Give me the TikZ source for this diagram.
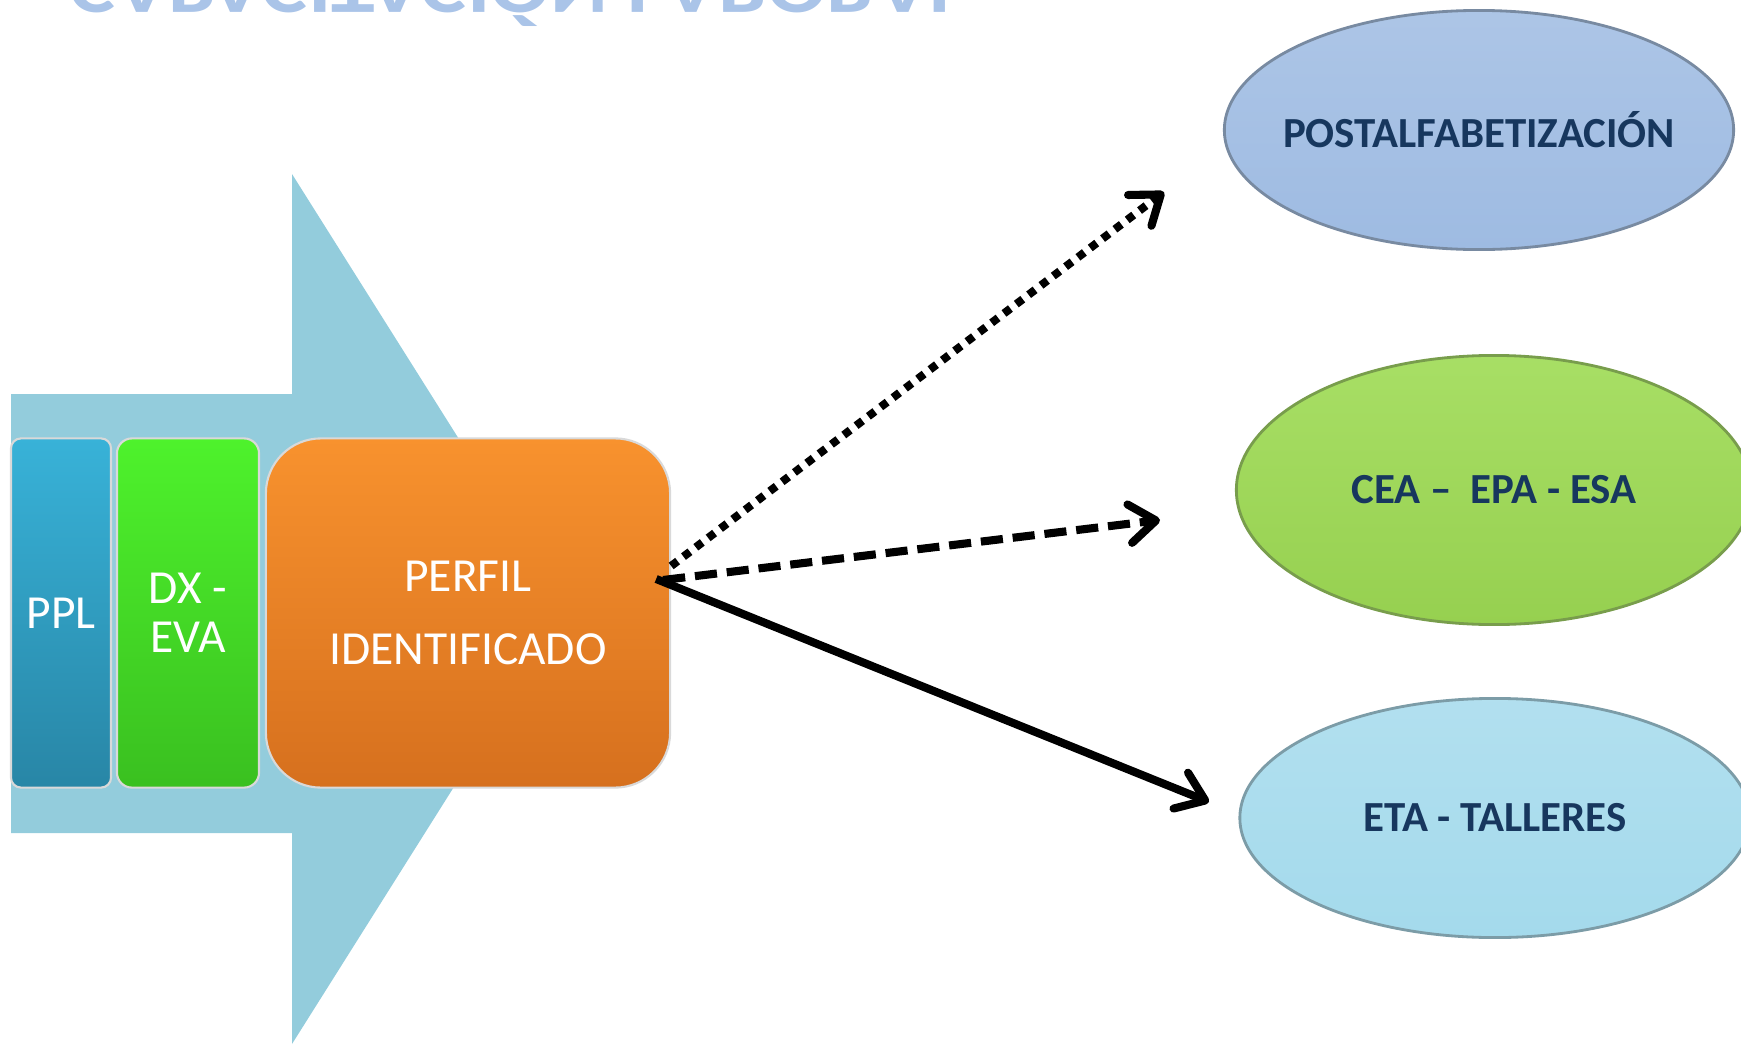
\documentclass[tikz,border=0pt]{standalone}
\usepackage{fontspec}
\setmainfont{Carlito}
\usetikzlibrary{shapes.geometric,arrows.meta}
\definecolor{bigarrow}{RGB}{147,204,220}
\definecolor{pplTop}{RGB}{56,178,216}
\definecolor{pplBot}{RGB}{40,134,166}
\definecolor{dxTop}{RGB}{78,242,44}
\definecolor{dxBot}{RGB}{58,192,32}
\definecolor{orTop}{RGB}{248,146,46}
\definecolor{orBot}{RGB}{214,112,30}
\definecolor{navytext}{RGB}{23,55,94}
\definecolor{ellBlue}{RGB}{158,187,226}
\definecolor{ellGreen}{RGB}{158,219,84}
\definecolor{ellCyan}{RGB}{164,218,236}
\definecolor{titlerefl}{RGB}{170,196,232}
\begin{document}
\begin{tikzpicture}[x=0.01cm,y=-0.01cm,
  stage/.style={rounded corners=#1, minimum height=3.49cm, inner sep=0pt,
    text=white, align=center, font=\fontsize{13.5}{14}\selectfont,
    draw=white!85!black, line width=0.6pt},
  goal/.style={ellipse, minimum height=2.39cm, inner xsep=-1.3cm, inner ysep=0pt,
    text=navytext, font=\bfseries\fontsize{12.2}{15}\selectfont,
    draw=#1!75!black!80!gray, line width=0.8pt},
  link/.style={line width=2.3pt, -{Straight Barb[length=7.5pt,width=11pt,line cap=round,line join=round]}},
  dotline/.style={link, dash pattern=on 2.3pt off 2.1pt},
  dashline/.style={link, dash pattern=on 6.3pt off 2.8pt}
]
\useasboundingbox (0,0) rectangle (1741,1045);
\begin{scope}
\clip (0,0) rectangle (1741,1045);
% reflected title, clipped at the top edge
\node[anchor=south, inner sep=0pt, text=titlerefl, font=\bfseries\fontsize{21}{24}\selectfont]
  (title) at (518,27) {\scalebox{1.19}[-1]{CAPACITACIÓN LABORAL}};
% big background arrow
\fill[bigarrow] (11,394) -- (292,394) -- (292,174) -- (566,609) -- (292,1044)
  -- (292,833) -- (11,833) -- cycle;
\end{scope}
% stages
\node[stage=0.1cm, minimum width=1.0cm, top color=pplTop, bottom color=pplBot] (ppl) at (61,613) {PPL};
\node[stage=0.15cm, minimum width=1.42cm, top color=dxTop, bottom color=dxBot] (dx) at (188,613) {DX -\\EVA};
\node[stage=0.55cm, minimum width=4.04cm, top color=orTop, bottom color=orBot] (perfil) at (468,613) {PERFIL\\[7pt]IDENTIFICADO};
% goals
\begin{scope}
\clip (0,0) rectangle (1741,1045);
\node[goal=ellBlue, minimum width=5.09cm, top color=ellBlue!85!white, bottom color=ellBlue] (post) at (1479,130) {POSTALFABETIZACIÓN};
\node[goal=ellGreen, minimum width=5.15cm, minimum height=2.69cm, top color=ellGreen!90!white, bottom color=ellGreen!95!black] (cea) at (1494,490) {CEA –\hspace{0.45em}EPA - ESA};
\node[goal=ellCyan, minimum width=5.1cm, top color=ellCyan!85!white, bottom color=ellCyan] (eta) at (1495,818) {ETA - TALLERES};
\end{scope}
% connectors
\coordinate (s1) at ([yshift=0.47cm]perfil.east);
\coordinate (s2) at ([xshift=-0.08cm,yshift=0.33cm]perfil.east);
\coordinate (s3) at ([xshift=-0.15cm,yshift=0.34cm]perfil.east);
\coordinate (e1) at (1164,192);
\coordinate (e2) at (1160,520);
\coordinate (e3) at (1209,802);
\draw[dotline] (s1) -- (e1);
\draw[dashline] (s2) -- (e2);
\draw[link] (s3) -- (e3);
\end{tikzpicture}
\end{document}
